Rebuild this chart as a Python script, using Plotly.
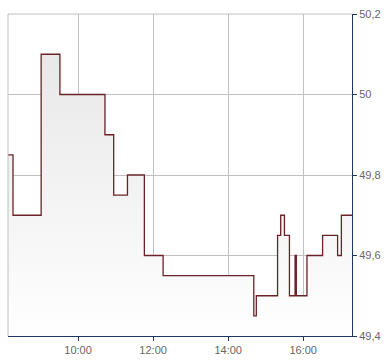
import plotly.graph_objects as go

day = "2024-01-02 "
times = ["08:08", "08:16", "09:01", "09:31", "10:43", "10:57", "11:19", "11:46",
         "12:16", "14:41", "14:45", "15:19", "15:24", "15:30", "15:38", "15:47",
         "15:49", "16:06", "16:31", "16:55", "17:01", "17:18"]
values = [49.85, 49.7, 50.1, 50.0, 49.9, 49.75, 49.8, 49.6,
          49.55, 49.45, 49.5, 49.65, 49.7, 49.65, 49.5, 49.6,
          49.5, 49.6, 49.65, 49.6, 49.7, 49.7]
y_ticks = [49.4, 49.6, 49.8, 50.0, 50.2]
y_labels = ["49,4", "49,6", "49,8", "50", "50,2"]
x_ticks = ["10:00", "12:00", "14:00", "16:00"]

x = [day + t for t in times]

tick_font = dict(family="Liberation Sans, Arial, sans-serif", size=11, color="#666666")

fig = go.Figure()
fig.add_trace(go.Scatter(
    x=x, y=values, mode="lines", line=dict(shape="hv", color="#6b2226", width=1.3),
    fill="tozeroy",
    fillgradient=dict(type="vertical", start=49.4, stop=50.1,
                      colorscale=[[0, "#ffffff"], [1, "#e8e8e8"]]),
    hoverinfo="skip", showlegend=False,
))

fig.update_layout(
    width=390, height=364,
    margin=dict(l=8, r=38, t=11, b=24),
    paper_bgcolor="white", plot_bgcolor="white",
    font=tick_font,
    xaxis=dict(
        range=[x[0], x[-1]],
        tickvals=[day + t for t in x_ticks], ticktext=x_ticks,
        tickfont=tick_font,
        showgrid=True, gridcolor="#c0c0c0", gridwidth=1,
        showline=True, linecolor="#1f3564", linewidth=1,
        ticks="outside", ticklen=4, tickcolor="#1f3564",
        zeroline=False, fixedrange=True,
    ),
    yaxis=dict(
        side="right", range=[49.4, 50.2],
        tickvals=y_ticks, ticktext=y_labels,
        tickfont=tick_font,
        showgrid=True, gridcolor="#c0c0c0", gridwidth=1,
        showline=True, linecolor="#1f3564", linewidth=1,
        ticks="outside", ticklen=4, tickcolor="#1f3564",
        zeroline=False, fixedrange=True,
    ),
    shapes=[
        dict(type="line", xref="paper", yref="paper", x0=0, x1=0, y0=0, y1=1,
             line=dict(color="#c0c0c0", width=1)),
        dict(type="line", xref="paper", yref="paper", x0=0, x1=1, y0=1, y1=1,
             line=dict(color="#c0c0c0", width=1)),
    ],
)

fig.write_html("out.html")
